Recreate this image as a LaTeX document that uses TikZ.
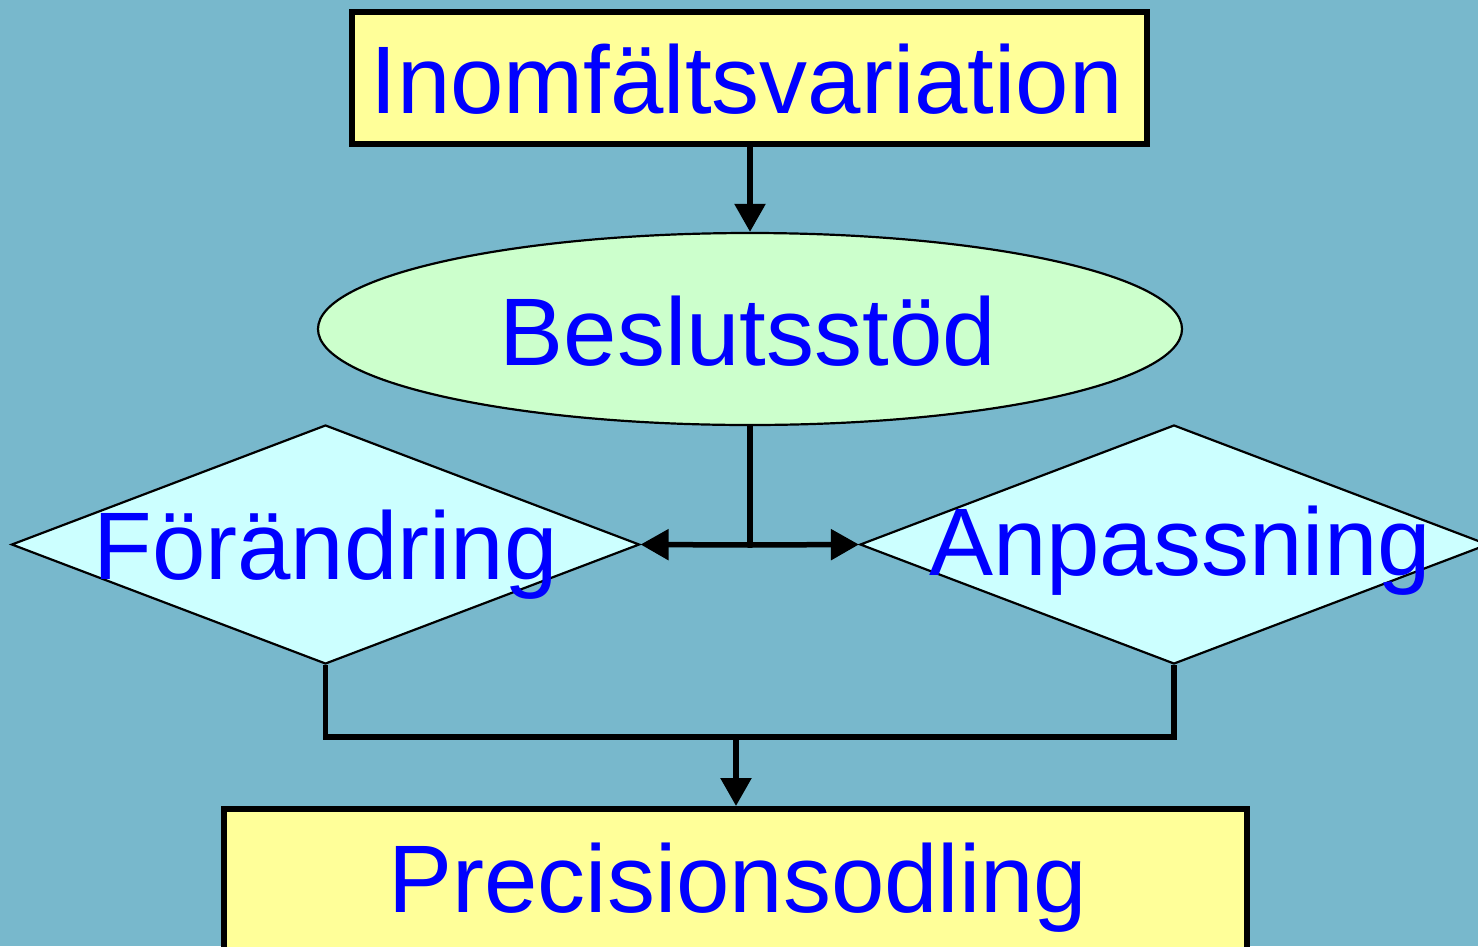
\documentclass[tikz,border=0pt]{standalone}
\usepackage{fontspec}
\setmainfont{Liberation Sans}
\usetikzlibrary{shapes.geometric,arrows.meta}
\definecolor{bgblue}{HTML}{78B8CC}
\definecolor{boxyellow}{HTML}{FFFF99}
\definecolor{ellgreen}{HTML}{CCFFCC}
\definecolor{diacyan}{HTML}{CCFFFF}
\definecolor{txtblue}{HTML}{0000FF}
\tikzset{
  mainbox/.style={draw=black, fill=boxyellow, line width=6pt, inner sep=0pt, rectangle},
  decision/.style={draw=black, fill=diacyan, line width=2.2pt, diamond, inner sep=0pt,
    minimum width=628pt, minimum height=239pt},
  support/.style={draw=black, fill=ellgreen, line width=2.2pt, ellipse, inner sep=0pt,
    minimum width=864pt, minimum height=192pt},
  label/.style={anchor=base, inner sep=0pt, text=txtblue, font=\fontsize{96}{110}\selectfont},
  link/.style={line width=5.5pt, -{Triangle[length=28pt,width=30pt]}},
  plain/.style={line width=5.5pt},
}
\begin{document}
\begin{tikzpicture}[x=1pt,y=-1pt]
  \useasboundingbox (0,0) rectangle (1478,946);
  \clip (0,0) rectangle (1478,946);
  \fill[bgblue] (0,0) rectangle (1478,946);

  % shapes
  \node[mainbox, minimum width=795pt, minimum height=132pt] (top) at (749.5,78) {};
  \node[support] (ell) at (750,329) {};
  \node[decision] (ldia) at (325.5,544.5) {};
  \node[decision] (rdia) at (1174,544.5) {};
  \node[mainbox, minimum width=1023pt, minimum height=200pt] (bot) at (735.5,909) {};

  % texts
  \node[label] (ttop) at (746.5,113) {Inomfältsvariation};
  \node[label] (tell) at (748,365) {Beslutsstöd};
  \node[label] (tldia) at (325.5,579) {Förändring};
  \node[label] (trdia) at (1180,575) {Anpassning};
  \node[label] (tbot) at (738,912) {Precisionsodling};

  % connectors
  \coordinate (split) at (750,545);
  \coordinate (merge) at (736,737);
  \draw[link] (ell.north |- top.south) -- (ell.north);
  \draw[plain] (ell.south) -- (split);
  \draw[link] (split) -- (ldia.east);
  \draw[link] (split) -- (rdia.west);
  \draw[plain] (ldia.south) |- (merge) -| (rdia.south);
  \draw[link] (merge) -- (merge |- bot.north);
\end{tikzpicture}
\end{document}
